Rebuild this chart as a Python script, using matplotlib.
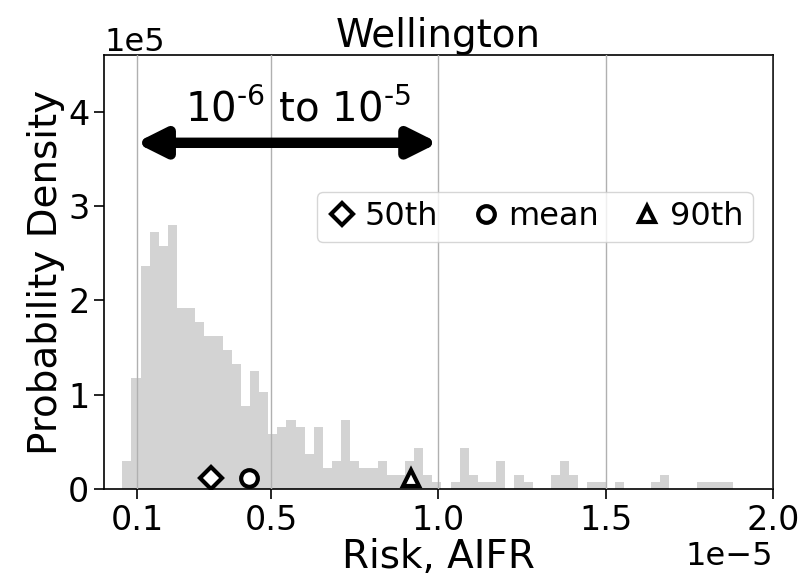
import numpy as np
import matplotlib
matplotlib.use("Agg")
import matplotlib.pyplot as plt

# histogram counts per bin
counts = [4, 16, 32, 37, 35, 38, 26, 26, 24, 22, 22, 20, 18, 12, 17, 14, 8, 9, 10, 9,
          5, 9, 3, 4, 10, 4, 3, 3, 4, 2, 2, 4, 6, 2, 1, 0, 1, 6, 2, 1,
          1, 4, 0, 2, 1, 0, 0, 2, 4, 2, 0, 1, 1, 0, 1, 0, 0, 0, 1, 2,
          0, 0, 0, 1, 1, 1, 1]
risk_min = 5.47e-7
risk_max = 1.882e-5

p50 = 3.19e-6
mean = 4.33e-6
p90 = 9.17e-6
marker_y = 1.2e4

xticks = [1e-6, 5e-6, 1e-5, 1.5e-5, 2e-5]
yticks = [0, 1e5, 2e5, 3e5, 4e5]

edges = np.linspace(risk_min, risk_max, len(counts) + 1)
centers = 0.5 * (edges[:-1] + edges[1:])

fig = plt.figure(figsize=(8, 5.85), dpi=100)
ax = fig.add_axes([0.13, 0.1636, 0.836, 0.7424])

ax.hist(centers, bins=edges, weights=counts, density=True, color='#d3d3d3', zorder=1)
ax.grid(axis='x', color='#b0b0b0', lw=1, zorder=2)
ax.set_axisbelow(False)

ms = dict(mfc='white', mec='black', mew=3, ls='none', zorder=5)
ax.plot([p50], [marker_y], marker='D', ms=11, label='50th', **ms)
ax.plot([mean], [marker_y], marker='o', ms=12, label='mean', **ms)
ax.plot([p90], [marker_y], marker='^', ms=12, label='90th', **ms)

ax.annotate('', xy=(0.95e-6, 3.67e5), xytext=(1e-5, 3.67e5),
            arrowprops=dict(arrowstyle='<|-|>', color='black', lw=7.5,
                            mutation_scale=42, shrinkA=0, shrinkB=0), zorder=6)
ax.text(5.8e-6, 4.02e5, r'10$^{\text{-6}}$ to 10$^{\text{-5}}$', fontsize=29,
        ha='center', va='center', zorder=6)

ax.set_xlim(0, 2e-5)
ax.set_ylim(0, 4.6e5)
ax.set_xticks(xticks)
ax.set_yticks(yticks)
ax.ticklabel_format(style='sci', scilimits=(0, 0), axis='both')
ax.tick_params(labelsize=24, length=7, width=1.2)
ax.xaxis.get_offset_text().set_fontsize(23)
ax.yaxis.get_offset_text().set_fontsize(23)
for s in ax.spines.values():
    s.set_linewidth(1.2)

ax.set_title('Wellington', fontsize=28, pad=6)
ax.set_xlabel('Risk, AIFR', fontsize=28, labelpad=1)
ax.set_ylabel('Probability Density', fontsize=28, labelpad=2)

ax.legend(loc='upper right', bbox_to_anchor=(0.97, 0.685), ncol=3, fontsize=23,
          handletextpad=0.2, columnspacing=1.0, borderaxespad=0, handlelength=1.0,
          borderpad=0.3)

fig.savefig('out.png', dpi=100)
